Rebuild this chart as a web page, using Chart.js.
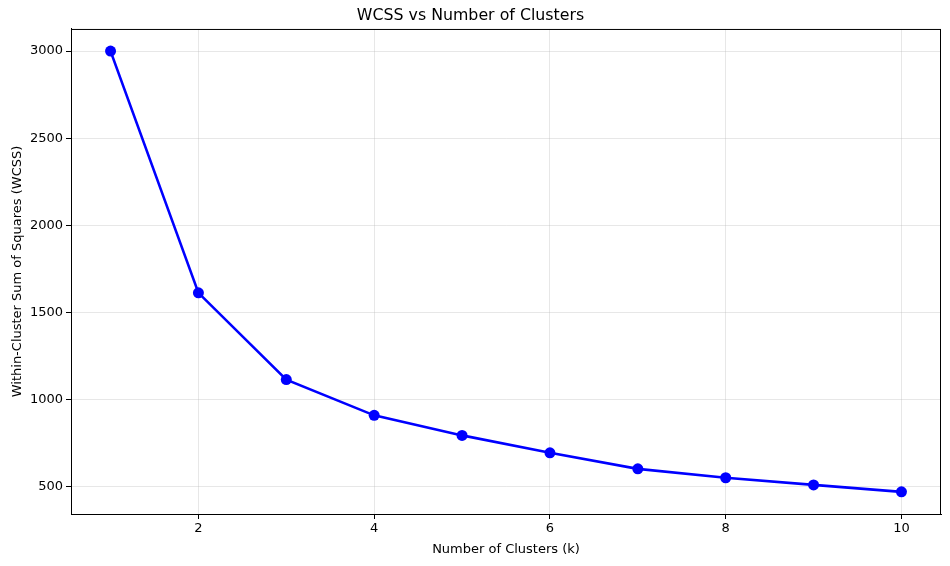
<!DOCTYPE html>
<html>
<head>
<meta charset="utf-8">
<title>WCSS vs Number of Clusters</title>
<script src="https://cdn.jsdelivr.net/npm/chart.js@4/dist/chart.umd.min.js"></script>
<style>
	html, body { margin: 0; padding: 0; background: #fff; }
	#wrap { width: 950px; height: 566px; }
</style>
</head>
<body>
<div id="wrap"><canvas id="elbow"></canvas></div>
<script>
// Elbow curve data
const kValues = [1, 2, 3, 4, 5, 6, 7, 8, 9, 10];
const wcss = [3000, 1613, 1115, 910, 795, 695, 603, 552, 511, 471];
const xTicks = [2, 4, 6, 8, 10];
const yTicks = [500, 1000, 1500, 2000, 2500, 3000];

const FONT = "'DejaVu Sans', sans-serif";
const GRID = "rgba(176, 176, 176, 0.3)";

// matplotlib draws a full box round the axes
const frame = {
	id: "frame",
	afterDraw(chart) {
		const { ctx, chartArea: a } = chart;
		ctx.save();
		ctx.strokeStyle = "#000";
		ctx.lineWidth = 1;
		ctx.strokeRect(a.left + 0.5, a.top + 0.5, a.right - a.left - 1, a.bottom - a.top);
		ctx.restore();
	},
};

new Chart(document.getElementById("elbow"), {
	type: "line",
	data: {
		datasets: [
			{
				data: kValues.map((k, i) => ({ x: k, y: wcss[i] })),
				borderColor: "#0000ff",
				backgroundColor: "#0000ff",
				borderWidth: 2.6,
				pointRadius: 5.5,
				pointHoverRadius: 5.5,
				pointBorderWidth: 0,
				tension: 0,
				fill: false,
			},
		],
	},
	options: {
		responsive: true,
		maintainAspectRatio: false,
		animation: false,
		layout: { padding: { left: 0, right: 9, top: 0, bottom: 0 } },
		plugins: {
			legend: { display: false },
			tooltip: { enabled: false },
			title: {
				display: true,
				text: "WCSS vs Number of Clusters",
				color: "#000",
				font: { family: FONT, size: 15.8, weight: "normal" },
				padding: { top: 6, bottom: 4 },
			},
		},
		scales: {
			x: {
				type: "linear",
				min: 0.55,
				max: 10.45,
				afterBuildTicks: (scale) => {
					scale.ticks = xTicks.map((v) => ({ value: v }));
				},
				afterFit: (scale) => {
					scale.height = 52;
				},
				ticks: {
					color: "#000",
					font: { family: FONT, size: 13 },
					padding: 2,
					maxRotation: 0,
					callback: (v) => String(v),
				},
				grid: { color: GRID, lineWidth: 1, tickColor: "#000", tickLength: 5 },
				border: { color: "#000", width: 1 },
				title: {
					display: true,
					text: "Number of Clusters (k)",
					color: "#000",
					font: { family: FONT, size: 13 },
					padding: { top: 9, bottom: 9 },
				},
			},
			y: {
				min: 344,
				max: 3127,
				afterBuildTicks: (scale) => {
					scale.ticks = yTicks.map((v) => ({ value: v }));
				},
				afterFit: (scale) => {
					scale.width = 71;
				},
				ticks: {
					color: "#000",
					font: { family: FONT, size: 13 },
					padding: 3,
					callback: (v) => String(v),
				},
				grid: { color: GRID, lineWidth: 1, tickColor: "#000", tickLength: 5 },
				border: { color: "#000", width: 1 },
				title: {
					display: true,
					text: "Within-Cluster Sum of Squares (WCSS)",
					color: "#000",
					font: { family: FONT, size: 13 },
					padding: { top: 10, bottom: 10 },
				},
			},
		},
	},
	plugins: [frame],
});
</script>
</body>
</html>
